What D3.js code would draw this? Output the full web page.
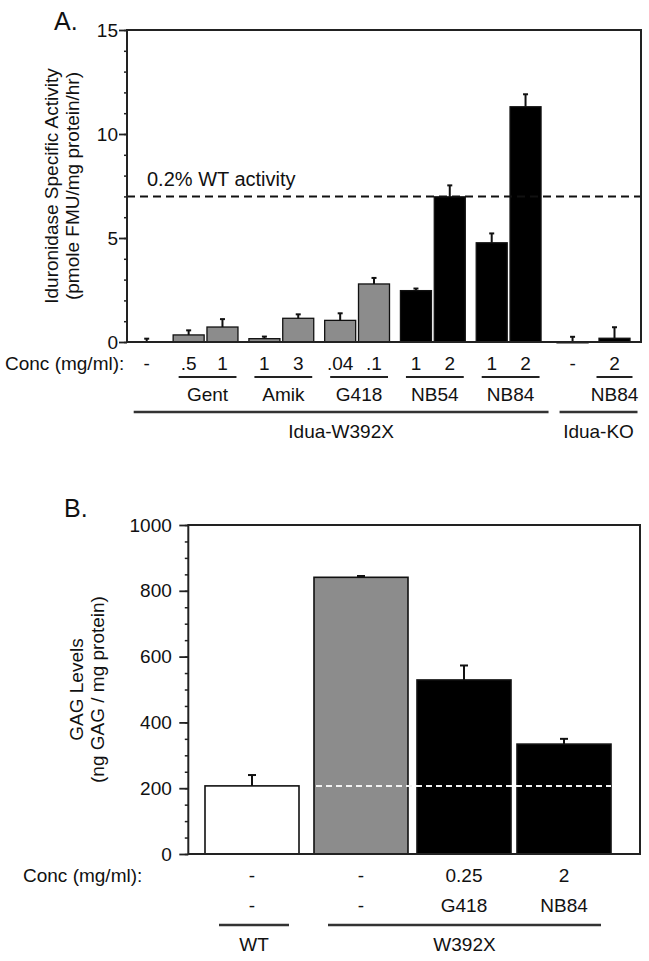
<!DOCTYPE html>
<html><head><meta charset="utf-8">
<script src="https://cdn.jsdelivr.net/npm/d3@7"></script>
<style>
body{margin:0;background:#fff}
text{font-family:"Liberation Sans",Arial,Helvetica,sans-serif;fill:#111}
</style>
</head><body>
<svg id="c" width="649" height="961"></svg>
<script>
// ---------- Panel A data ----------
const concA   = ["-", ".5", "1", "1", "3", ".04", ".1", "1", "2", "1", "2", "-", "2"];
const drugA   = ["", "Gent", "Gent", "Amik", "Amik", "G418", "G418", "NB54", "NB54", "NB84", "NB84", "", "NB84"];
const strainA = ["Idua-W392X","Idua-W392X","Idua-W392X","Idua-W392X","Idua-W392X","Idua-W392X",
                 "Idua-W392X","Idua-W392X","Idua-W392X","Idua-W392X","Idua-W392X","Idua-KO","Idua-KO"];
const activityA = [0.00, 0.34, 0.72, 0.16, 1.14, 1.04, 2.79, 2.47, 6.98, 4.77, 11.31, -0.04, 0.18];
const errorA    = [0.16, 0.22, 0.38, 0.10, 0.19, 0.34, 0.29, 0.10, 0.55, 0.45, 0.60, 0.25, 0.53];
const ticksA = [0, 5, 10, 15];
const wtLevelA = 7;
const wtLabelA = "0.2% WT activity";
const aminoglycosides = ["Gent", "Amik", "G418"];

// ---------- Panel B data ----------
const concB   = ["-", "-", "0.25", "2"];
const drugB   = ["-", "-", "G418", "NB84"];
const strainB = ["WT", "W392X", "W392X", "W392X"];
const gagB    = [207, 841, 529, 334];
const errorB  = [33, 4, 44, 16];
const ticksB  = [0, 200, 400, 600, 800, 1000];

const svg = d3.select("#c");
const FS = 19;
const GRAY = "#8c8c8c";

function slotPositions(keys, strains, gap, sgap) {
  const s = [0];
  for (let i = 1; i < keys.length; i++) {
    let st = 1;
    if (keys[i] !== keys[i-1]) st += gap;
    if (strains[i] !== strains[i-1]) st += sgap;
    s.push(s[i-1] + st);
  }
  return s;
}
function runs(arr, keyFn) {
  const out = [];
  arr.forEach((d, i) => {
    const k = keyFn(i);
    if (out.length && out[out.length-1].key === k) out[out.length-1].end = i;
    else out.push({key: k, start: i, end: i});
  });
  return out;
}

// =================== PANEL A ===================
const A = {left: 127, right: 641, top: 30, bottom: 342};
const yA = d3.scaleLinear().domain([0, 15]).range([A.bottom, A.top]);
const keysA = drugA.map((d, i) => d + "|" + strainA[i]);
const slotA = slotPositions(keysA, strainA, 0.24, 0.15);
const xA = d3.scaleLinear().domain([0, slotA[slotA.length-1]]).range([146.7, 614.5]);
const bwA = 31;
const gA = svg.append("g");

gA.selectAll("rect.bar").data(activityA).join("rect")
  .attr("class", "bar")
  .attr("x", (d, i) => xA(slotA[i]) - bwA/2)
  .attr("width", bwA)
  .attr("y", d => yA(Math.max(d, 0)))
  .attr("height", d => Math.abs(yA(d) - yA(0)))
  .attr("fill", (d, i) => aminoglycosides.includes(drugA[i]) ? GRAY : "#000")
  .attr("stroke", (d, i) => d === 0 ? "none" : "#111")
  .attr("stroke-width", 1.3);

activityA.forEach((v, i) => {
  const cx = xA(slotA[i]);
  const top = Math.max(v, 0);
  gA.append("line").attr("x1", cx).attr("x2", cx)
    .attr("y1", yA(top)).attr("y2", yA(top + errorA[i]))
    .attr("stroke", "#111").attr("stroke-width", 2);
  gA.append("line").attr("x1", cx - 2.5).attr("x2", cx + 2.5)
    .attr("y1", yA(top + errorA[i])).attr("y2", yA(top + errorA[i]))
    .attr("stroke", "#111").attr("stroke-width", 2);
});

gA.append("line").attr("x1", A.left).attr("x2", A.right)
  .attr("y1", yA(wtLevelA)).attr("y2", yA(wtLevelA))
  .attr("stroke", "#111").attr("stroke-width", 2).attr("stroke-dasharray", "8,5");
gA.append("text").attr("x", 147).attr("y", yA(wtLevelA) - 10)
  .attr("font-size", FS + 1).text(wtLabelA);

const minorA = gA.append("g").attr("transform", `translate(${A.left},0)`)
  .call(d3.axisLeft(yA).tickValues(d3.range(0, 16, 1)).tickSize(3).tickFormat(""));
minorA.select(".domain").remove();
minorA.selectAll("line").attr("stroke", "#222").attr("stroke-width", 1.5);
const majorA = gA.append("g").attr("transform", `translate(${A.left},0)`)
  .call(d3.axisLeft(yA).tickValues(ticksA).tickSize(8).tickPadding(1).tickFormat(d3.format("d")));
majorA.select(".domain").remove();
majorA.selectAll("line").attr("stroke", "#222").attr("stroke-width", 1.8);
majorA.selectAll("text").attr("font-size", FS).attr("fill", "#111")
  .attr("font-family", '"Liberation Sans",Arial,sans-serif');

gA.append("rect").attr("x", A.left).attr("y", A.top)
  .attr("width", A.right - A.left).attr("height", A.bottom - A.top)
  .attr("fill", "none").attr("stroke", "#222").attr("stroke-width", 2);

const tA = gA.append("g").attr("font-size", FS);
tA.append("text").attr("transform", `translate(58,${(A.top + A.bottom)/2}) rotate(-90)`)
  .attr("text-anchor", "middle").text("Iduronidase Specific Activity");
tA.append("text").attr("transform", `translate(79,${(A.top + A.bottom)/2}) rotate(-90)`)
  .attr("text-anchor", "middle").text("(pmole FMU/mg protein/hr)");

svg.append("text").attr("x", 54).attr("y", 30).attr("font-size", 25).text("A.");

const concRowA = 370;
gA.append("text").attr("x", 5).attr("y", concRowA).attr("font-size", FS).text("Conc (mg/ml):");
gA.selectAll("text.conc").data(concA).join("text").attr("class", "conc")
  .attr("x", (d, i) => xA(slotA[i])).attr("y", concRowA)
  .attr("text-anchor", "middle").attr("font-size", FS).text(d => d);

runs(drugA, i => keysA[i]).filter(r => drugA[r.start] !== "").forEach(r => {
  const single = r.start === r.end;
  const x1 = xA(slotA[r.start]) - (single ? 18 : 10);
  const x2 = xA(slotA[r.end]) + (single ? 18 : 14);
  gA.append("line").attr("x1", x1).attr("x2", x2).attr("y1", 377).attr("y2", 377)
    .attr("stroke", "#222").attr("stroke-width", 2);
  gA.append("text").attr("x", (x1 + x2)/2).attr("y", 401).attr("text-anchor", "middle")
    .attr("font-size", FS).text(drugA[r.start]);
});

runs(strainA, i => strainA[i]).forEach(r => {
  const x1 = xA(slotA[r.start]) - 13;
  const x2 = xA(slotA[r.end]) + 23;
  gA.append("line").attr("x1", x1).attr("x2", x2).attr("y1", 412).attr("y2", 412)
    .attr("stroke", "#333").attr("stroke-width", 2.5);
  gA.append("text").attr("x", (x1 + x2)/2).attr("y", 438).attr("text-anchor", "middle")
    .attr("font-size", FS).text(r.key);
});

// =================== PANEL B ===================
const B = {left: 188.3, right: 640, top: 525, bottom: 854};
const yB = d3.scaleLinear().domain([0, 1000]).range([B.bottom, B.top]);
const keysB = strainB.map((s, i) => s + "|" + (drugB[i] === "-" ? "u" : "t"));
const slotB = slotPositions(keysB, strainB, 0.03, 0.06);
const xB = d3.scaleLinear().domain([0, slotB[slotB.length-1]]).range([252, 564]);
const bwB = 94;
const gB = svg.append("g");

gB.selectAll("rect.bar").data(gagB).join("rect").attr("class", "bar")
  .attr("x", (d, i) => xB(slotB[i]) - bwB/2).attr("width", bwB)
  .attr("y", d => yB(d)).attr("height", d => yB(0) - yB(d))
  .attr("fill", (d, i) => strainB[i] === "WT" ? "#fff" : (drugB[i] === "-" ? GRAY : "#000"))
  .attr("stroke", "#111").attr("stroke-width", 1.6);

gagB.forEach((v, i) => {
  const cx = xB(slotB[i]);
  gB.append("line").attr("x1", cx).attr("x2", cx).attr("y1", yB(v)).attr("y2", yB(v + errorB[i]))
    .attr("stroke", "#111").attr("stroke-width", 2);
  gB.append("line").attr("x1", cx - 4).attr("x2", cx + 4)
    .attr("y1", yB(v + errorB[i])).attr("y2", yB(v + errorB[i]))
    .attr("stroke", "#111").attr("stroke-width", 2);
});

gB.append("line")
  .attr("x1", xB(slotB[1]) - bwB/2 + 2).attr("x2", xB(slotB[3]) + bwB/2)
  .attr("y1", yB(gagB[0])).attr("y2", yB(gagB[0]))
  .attr("stroke", "#f2f2f2").attr("stroke-width", 2).attr("stroke-dasharray", "6,4");

const minorB = gB.append("g").attr("transform", `translate(${B.left},0)`)
  .call(d3.axisLeft(yB).tickValues(d3.range(0, 1001, 50)).tickSize(3.5).tickFormat(""));
minorB.select(".domain").remove();
minorB.selectAll("line").attr("stroke", "#222").attr("stroke-width", 1.5);
const majorB = gB.append("g").attr("transform", `translate(${B.left},0)`)
  .call(d3.axisLeft(yB).tickValues(ticksB).tickSize(9).tickPadding(7.5).tickFormat(d3.format("d")));
majorB.select(".domain").remove();
majorB.selectAll("line").attr("stroke", "#222").attr("stroke-width", 1.8);
majorB.selectAll("text").attr("font-size", FS).attr("fill", "#111")
  .attr("font-family", '"Liberation Sans",Arial,sans-serif');

gB.append("rect").attr("x", B.left).attr("y", B.top)
  .attr("width", B.right - B.left).attr("height", B.bottom - B.top)
  .attr("fill", "none").attr("stroke", "#222").attr("stroke-width", 2);

const tB = gB.append("g").attr("font-size", FS);
tB.append("text").attr("transform", `translate(83,${(B.top + B.bottom)/2}) rotate(-90)`)
  .attr("text-anchor", "middle").text("GAG Levels");
tB.append("text").attr("transform", `translate(104,${(B.top + B.bottom)/2}) rotate(-90)`)
  .attr("text-anchor", "middle").text("(ng GAG / mg protein)");

svg.append("text").attr("x", 64).attr("y", 517).attr("font-size", 25).text("B.");

gB.append("text").attr("x", 23).attr("y", 882).attr("font-size", FS).text("Conc (mg/ml):");
gB.selectAll("text.conc").data(concB).join("text").attr("class", "conc")
  .attr("x", (d, i) => xB(slotB[i])).attr("y", 882)
  .attr("text-anchor", "middle").attr("font-size", FS).text(d => d);
gB.selectAll("text.drug").data(drugB).join("text").attr("class", "drug")
  .attr("x", (d, i) => xB(slotB[i])).attr("y", 912)
  .attr("text-anchor", "middle").attr("font-size", FS).text(d => d);

runs(strainB, i => strainB[i]).forEach(r => {
  const x1 = xB(slotB[r.start]) - 33;
  const x2 = xB(slotB[r.end]) + 37;
  gB.append("line").attr("x1", x1).attr("x2", x2).attr("y1", 925).attr("y2", 925)
    .attr("stroke", "#333").attr("stroke-width", 2.5);
  gB.append("text").attr("x", (x1 + x2)/2).attr("y", 951).attr("text-anchor", "middle")
    .attr("font-size", FS).text(r.key);
});
</script>
</body></html>
